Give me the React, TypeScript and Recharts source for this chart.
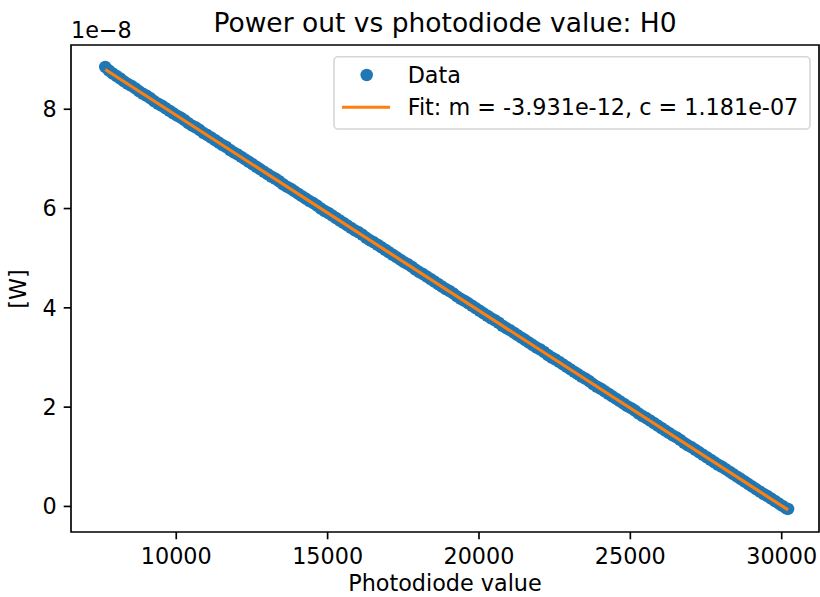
import React from "react";
import { ComposedChart, ReferenceArea, Scatter, XAxis, YAxis } from "recharts";

const photodiode = [
  7655, 7900, 8150, 8400, 8650, 8900, 9150, 9400, 9650, 9900,
  10150, 10400, 10650, 10900, 11150, 11400, 11650, 11900, 12150, 12400,
  12650, 12900, 13150, 13400, 13650, 13900, 14150, 14400, 14650, 14900,
  15150, 15400, 15650, 15900, 16150, 16400, 16650, 16900, 17150, 17400,
  17650, 17900, 18150, 18400, 18650, 18900, 19150, 19400, 19650, 19900,
  20150, 20400, 20650, 20900, 21150, 21400, 21650, 21900, 22150, 22400,
  22650, 22900, 23150, 23400, 23650, 23900, 24150, 24400, 24650, 24900,
  25150, 25400, 25650, 25900, 26150, 26400, 26650, 26900, 27150, 27400,
  27650, 27900, 28150, 28400, 28650, 28900, 29150, 29400, 29650, 29900,
  30150, 30210,
];
const powerE8 = [
  8.85, 8.72, 8.62, 8.51, 8.42, 8.31, 8.22, 8.11, 8.02, 7.92,
  7.83, 7.72, 7.63, 7.52, 7.43, 7.33, 7.24, 7.13, 7.04, 6.94,
  6.84, 6.74, 6.64, 6.55, 6.44, 6.35, 6.25, 6.15, 6.06, 5.95,
  5.86, 5.76, 5.66, 5.56, 5.47, 5.36, 5.27, 5.17, 5.07, 4.97,
  4.88, 4.77, 4.68, 4.58, 4.48, 4.38, 4.29, 4.18, 4.09, 3.99,
  3.89, 3.79, 3.70, 3.59, 3.50, 3.40, 3.30, 3.20, 3.11, 3.00,
  2.91, 2.81, 2.71, 2.61, 2.52, 2.41, 2.32, 2.22, 2.12, 2.02,
  1.93, 1.82, 1.73, 1.63, 1.53, 1.43, 1.34, 1.23, 1.14, 1.04,
  0.94, 0.84, 0.75, 0.65, 0.55, 0.45, 0.35, 0.25, 0.16, 0.06,
  -0.04, -0.05,
];

// second set of readings, in between the first ones
const photodiodeB = [
  7775, 8025, 8275, 8525, 8775, 9025, 9275, 9525, 9775, 10025,
  10275, 10525, 10775, 11025, 11275, 11525, 11775, 12025, 12275, 12525,
  12775, 13025, 13275, 13525, 13775, 14025, 14275, 14525, 14775, 15025,
  15275, 15525, 15775, 16025, 16275, 16525, 16775, 17025, 17275, 17525,
  17775, 18025, 18275, 18525, 18775, 19025, 19275, 19525, 19775, 20025,
  20275, 20525, 20775, 21025, 21275, 21525, 21775, 22025, 22275, 22525,
  22775, 23025, 23275, 23525, 23775, 24025, 24275, 24525, 24775, 25025,
  25275, 25525, 25775, 26025, 26275, 26525, 26775, 27025, 27275, 27525,
  27775, 28025, 28275, 28525, 28775, 29025, 29275, 29525, 29775, 30025,
];
const powerE8B = [
  8.78, 8.67, 8.56, 8.47, 8.36, 8.27, 8.16, 8.07, 7.97, 7.87,
  7.78, 7.67, 7.58, 7.48, 7.38, 7.28, 7.18, 7.09, 6.99, 6.89,
  6.79, 6.69, 6.60, 6.49, 6.40, 6.30, 6.20, 6.11, 6.00, 5.91,
  5.81, 5.71, 5.61, 5.52, 5.41, 5.32, 5.22, 5.12, 5.02, 4.92,
  4.83, 4.72, 4.63, 4.53, 4.43, 4.34, 4.23, 4.14, 4.04, 3.94,
  3.84, 3.75, 3.64, 3.55, 3.45, 3.35, 3.25, 3.16, 3.05, 2.96,
  2.86, 2.76, 2.66, 2.57, 2.46, 2.37, 2.27, 2.17, 2.07, 1.98,
  1.87, 1.78, 1.68, 1.58, 1.48, 1.39, 1.28, 1.19, 1.09, 0.99,
  0.89, 0.80, 0.70, 0.60, 0.50, 0.40, 0.30, 0.21, 0.11, 0.01,
];

// fitted line end points
const fitX = [7655, 30210];
const fitY = [8.80, -0.07];

const xTicks = [10000, 15000, 20000, 25000, 30000];
const yTicks = [0, 2, 4, 6, 8];
const xDomain = [6523, 31232];
const yDomain = [-0.515, 9.294];

const BLUE = "#1f77b4";
const ORANGE = "#ff7f0e";
const FONT = "DejaVu Sans";
const FS = 22.3;

const points = [
  ...photodiode.map((x, i) => ({ x, y: powerE8[i] })),
  ...photodiodeB.map((x, i) => ({ x, y: powerE8B[i] })),
].sort((a, b) => a.x - b.x);
const fit = fitX.map((x, i) => ({ x, y: fitY[i] }));

const tickStyle = { fill: "#000", fontSize: FS, fontFamily: FONT };

const Dot = (props: any) => <circle cx={props.cx} cy={props.cy} r={6.25} fill={BLUE} />;
const NoDot = () => <g />;

export default function App() {
  return (
    <div style={{ position: "absolute", left: 0, top: 0, width: 820, height: 597, background: "#fff", fontFamily: FONT }}>
      <ComposedChart width={820} height={597} margin={{ top: 45, right: 1, bottom: 0, left: 0 }}>
        <XAxis
          dataKey="x"
          type="number"
          domain={xDomain}
          ticks={xTicks}
          allowDataOverflow
          height={65}
          axisLine={false}
          tickSize={7.3}
          tickMargin={9}
          tickLine={{ stroke: "#000", strokeWidth: 1.67 }}
          tick={tickStyle}
        />
        <YAxis
          dataKey="y"
          type="number"
          domain={yDomain}
          ticks={yTicks}
          allowDataOverflow
          width={71}
          axisLine={false}
          tickSize={7.3}
          tickMargin={7}
          tickLine={{ stroke: "#000", strokeWidth: 1.67 }}
          tick={tickStyle}
        />
        <Scatter data={points} dataKey="y" shape={Dot} isAnimationActive={false} />
        <Scatter
          data={fit}
          dataKey="y"
          shape={NoDot}
          line={{ stroke: ORANGE, strokeWidth: 3.1 }}
          lineType="joint"
          isAnimationActive={false}
        />
        <ReferenceArea x1={xDomain[0]} x2={xDomain[1]} y1={yDomain[0]} y2={yDomain[1]} fill="none" stroke="#000" strokeWidth={1.67} fillOpacity={0} />
      </ComposedChart>
      <svg width={820} height={597} style={{ position: "absolute", left: 0, top: 0, pointerEvents: "none" }} fontFamily={FONT}>
        <text x={445} y={32} textAnchor="middle" fontSize={26.5} fill="#000">Power out vs photodiode value: H0</text>
        <text x={71} y={38.3} fontSize={FS} fill="#000">1e−8</text>
        <text x={445} y={591} textAnchor="middle" fontSize={FS} fill="#000">Photodiode value</text>
        <text x={26} y={289} textAnchor="middle" fontSize={FS} fill="#000" transform="rotate(-90 26 289)">[W]</text>
        <rect x={334} y={56.7} width={476} height={72.3} rx={4} fill="#fff" fillOpacity={0.8} stroke="#d6d6d6" strokeWidth={1.6} />
        <circle cx={366.7} cy={75} r={6.25} fill={BLUE} />
        <text x={407.7} y={83.3} fontSize={FS} fill="#000">Data</text>
        <line x1={342} y1={107.3} x2={390} y2={107.3} stroke={ORANGE} strokeWidth={3.1} />
        <text x={407.7} y={115.3} fontSize={FS} fill="#000">Fit: m = -3.931e-12, c = 1.181e-07</text>
      </svg>
    </div>
  );
}
